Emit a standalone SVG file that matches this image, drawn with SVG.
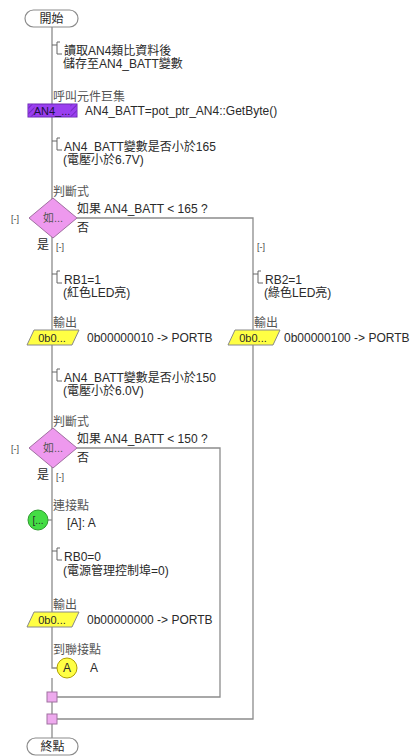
<svg xmlns="http://www.w3.org/2000/svg" width="412" height="756" viewBox="0 0 412 756">
<defs>
<style>
text{font-family:"Liberation Sans","Noto Sans CJK TC",sans-serif;font-size:12px;fill:#2a2a2a}
.lbl{fill:#555}
.sm{font-size:9px;fill:#444}
.c{text-anchor:middle}
.ln{stroke:#8c8c8c;stroke-width:1.3;fill:none}
.br{stroke:#666;stroke-width:1;fill:none}
.term{fill:#fff;stroke:#8c8c8c;stroke-width:1.2}
.dia{fill:#ee99ee;stroke:#a070a0;stroke-width:1}
.out{fill:#ffff44;stroke:#888;stroke-width:1}
.jn{fill:#eeaaee;stroke:#a070a0;stroke-width:1}
</style>
<pattern id="hatch" width="4" height="4" patternUnits="userSpaceOnUse" patternTransform="rotate(45)">
<rect width="4" height="4" fill="#9a3ff0"/>
<line x1="0" y1="0" x2="0" y2="4" stroke="#5a1aa0" stroke-width="1.2"/>
</pattern>
</defs>
<rect width="412" height="756" fill="#fff"/>

<g id="connectors">
<path class="ln" d="M52,27 V668 H57"/>
<path class="ln" d="M52,678 V738"/>
<path class="ln" d="M77,218 H253 V719 H57"/>
<path class="ln" d="M77,448 H220 V697 H57"/>
<path class="ln" d="M48,520 H52"/>
</g>

<g id="start">
<rect class="term" x="25" y="10" width="53" height="17" rx="8.5"/>
<text class="c" x="51.5" y="23">開始</text>
</g>

<g id="comment1">
<path class="br" d="M52,45 H57 M60,42 H57 V54 H62"/>
<text x="64" y="55">讀取AN4類比資料後</text>
<text x="63" y="68">儲存至AN4_BATT變數</text>
</g>

<g id="macro">
<text class="lbl" x="53" y="101">呼叫元件巨集</text>
<rect x="28" y="104" width="49" height="13" fill="#9a3ff0" stroke="#6a2ab0" stroke-width="1"/>
<rect x="28.5" y="104.5" width="6" height="12" fill="url(#hatch)"/>
<rect x="70.5" y="104.5" width="6" height="12" fill="url(#hatch)"/>
<text x="52" y="115" class="c" style="font-size:11px;fill:#1a1040">AN4_...</text>
<text x="85" y="115">AN4_BATT=pot_ptr_AN4::GetByte()</text>
</g>

<g id="comment2">
<path class="br" d="M52,141 H57 M60,138 H57 V150 H62"/>
<text x="64" y="151">AN4_BATT變數是否小於165</text>
<text x="63" y="164">(電壓小於6.7V)</text>
</g>

<g id="decision1">
<text class="lbl" x="53" y="196">判斷式</text>
<polygon class="dia" points="53,198 77,218 53,238 29,218"/>
<text class="c lbl" x="53" y="222" style="font-size:11px">如...</text>
<text x="77" y="213">如果 AN4_BATT &lt; 165 ?</text>
<text x="77" y="232">否</text>
<text class="sm" x="11" y="222">[-]</text>
<text x="37" y="249">是</text>
<text class="sm" x="56" y="250">[-]</text>
<text class="sm" x="257" y="250">[-]</text>
</g>

<g id="comment_rb1">
<path class="br" d="M52,274 H57 M60,271 H57 V283 H62"/>
<text x="64" y="284">RB1=1</text>
<text x="63" y="297">(紅色LED亮)</text>
</g>

<g id="output1">
<text class="lbl" x="53" y="327">輸出</text>
<polygon class="out" points="34,330 79,330 72,345 27,345"/>
<text class="c" x="52" y="342" style="font-size:11px">0b0...</text>
<text x="87" y="342">0b00000010 -&gt; PORTB</text>
</g>

<g id="comment_rb2">
<path class="br" d="M253,274 H258 M261,271 H258 V283 H263"/>
<text x="265" y="284">RB2=1</text>
<text x="264" y="297">(綠色LED亮)</text>
</g>

<g id="output2">
<text class="lbl" x="254" y="327">輸出</text>
<polygon class="out" points="235,330 280,330 273,345 228,345"/>
<text class="c" x="253" y="342" style="font-size:11px">0b0...</text>
<text x="284" y="342">0b00000100 -&gt; PORTB</text>
</g>

<g id="comment3">
<path class="br" d="M52,372 H57 M60,369 H57 V381 H62"/>
<text x="64" y="382">AN4_BATT變數是否小於150</text>
<text x="63" y="395">(電壓小於6.0V)</text>
</g>

<g id="decision2">
<text class="lbl" x="53" y="426">判斷式</text>
<polygon class="dia" points="53,428 77,448 53,468 29,448"/>
<text class="c lbl" x="53" y="452" style="font-size:11px">如...</text>
<text x="77" y="443">如果 AN4_BATT &lt; 150 ?</text>
<text x="77" y="462">否</text>
<text class="sm" x="11" y="452">[-]</text>
<text x="37" y="479">是</text>
<text class="sm" x="56" y="480">[-]</text>
</g>

<g id="connection_point">
<text class="lbl" x="53" y="510">連接點</text>
<circle cx="38" cy="520" r="10" fill="#44dd44" stroke="#2e9a2e" stroke-width="1"/>
<text class="c" x="38" y="524" style="font-size:10px">[...</text>
<text x="67" y="527">[A]: A</text>
</g>

<g id="comment_rb0">
<path class="br" d="M52,551 H57 M60,548 H57 V560 H62"/>
<text x="64" y="561">RB0=0</text>
<text x="63" y="575">(電源管理控制埠=0)</text>
</g>

<g id="output3">
<text class="lbl" x="53" y="609">輸出</text>
<polygon class="out" points="34,612 79,612 72,627 27,627"/>
<text class="c" x="52" y="624" style="font-size:11px">0b0...</text>
<text x="87" y="624">0b00000000 -&gt; PORTB</text>
</g>

<g id="goto_point">
<text class="lbl" x="53" y="654">到聯接點</text>
<circle cx="67" cy="668" r="10" fill="#ffff44" stroke="#b0a000" stroke-width="1"/>
<text class="c" x="67" y="672">A</text>
<text x="90" y="672">A</text>
</g>

<g id="join1">
<rect class="jn" x="47" y="692" width="10" height="10"/>
</g>
<g id="join2">
<rect class="jn" x="47" y="714" width="10" height="10"/>
</g>

<g id="end">
<rect class="term" x="27" y="738" width="51" height="17" rx="8.5"/>
<text class="c" x="52.5" y="751">終點</text>
</g>
</svg>
